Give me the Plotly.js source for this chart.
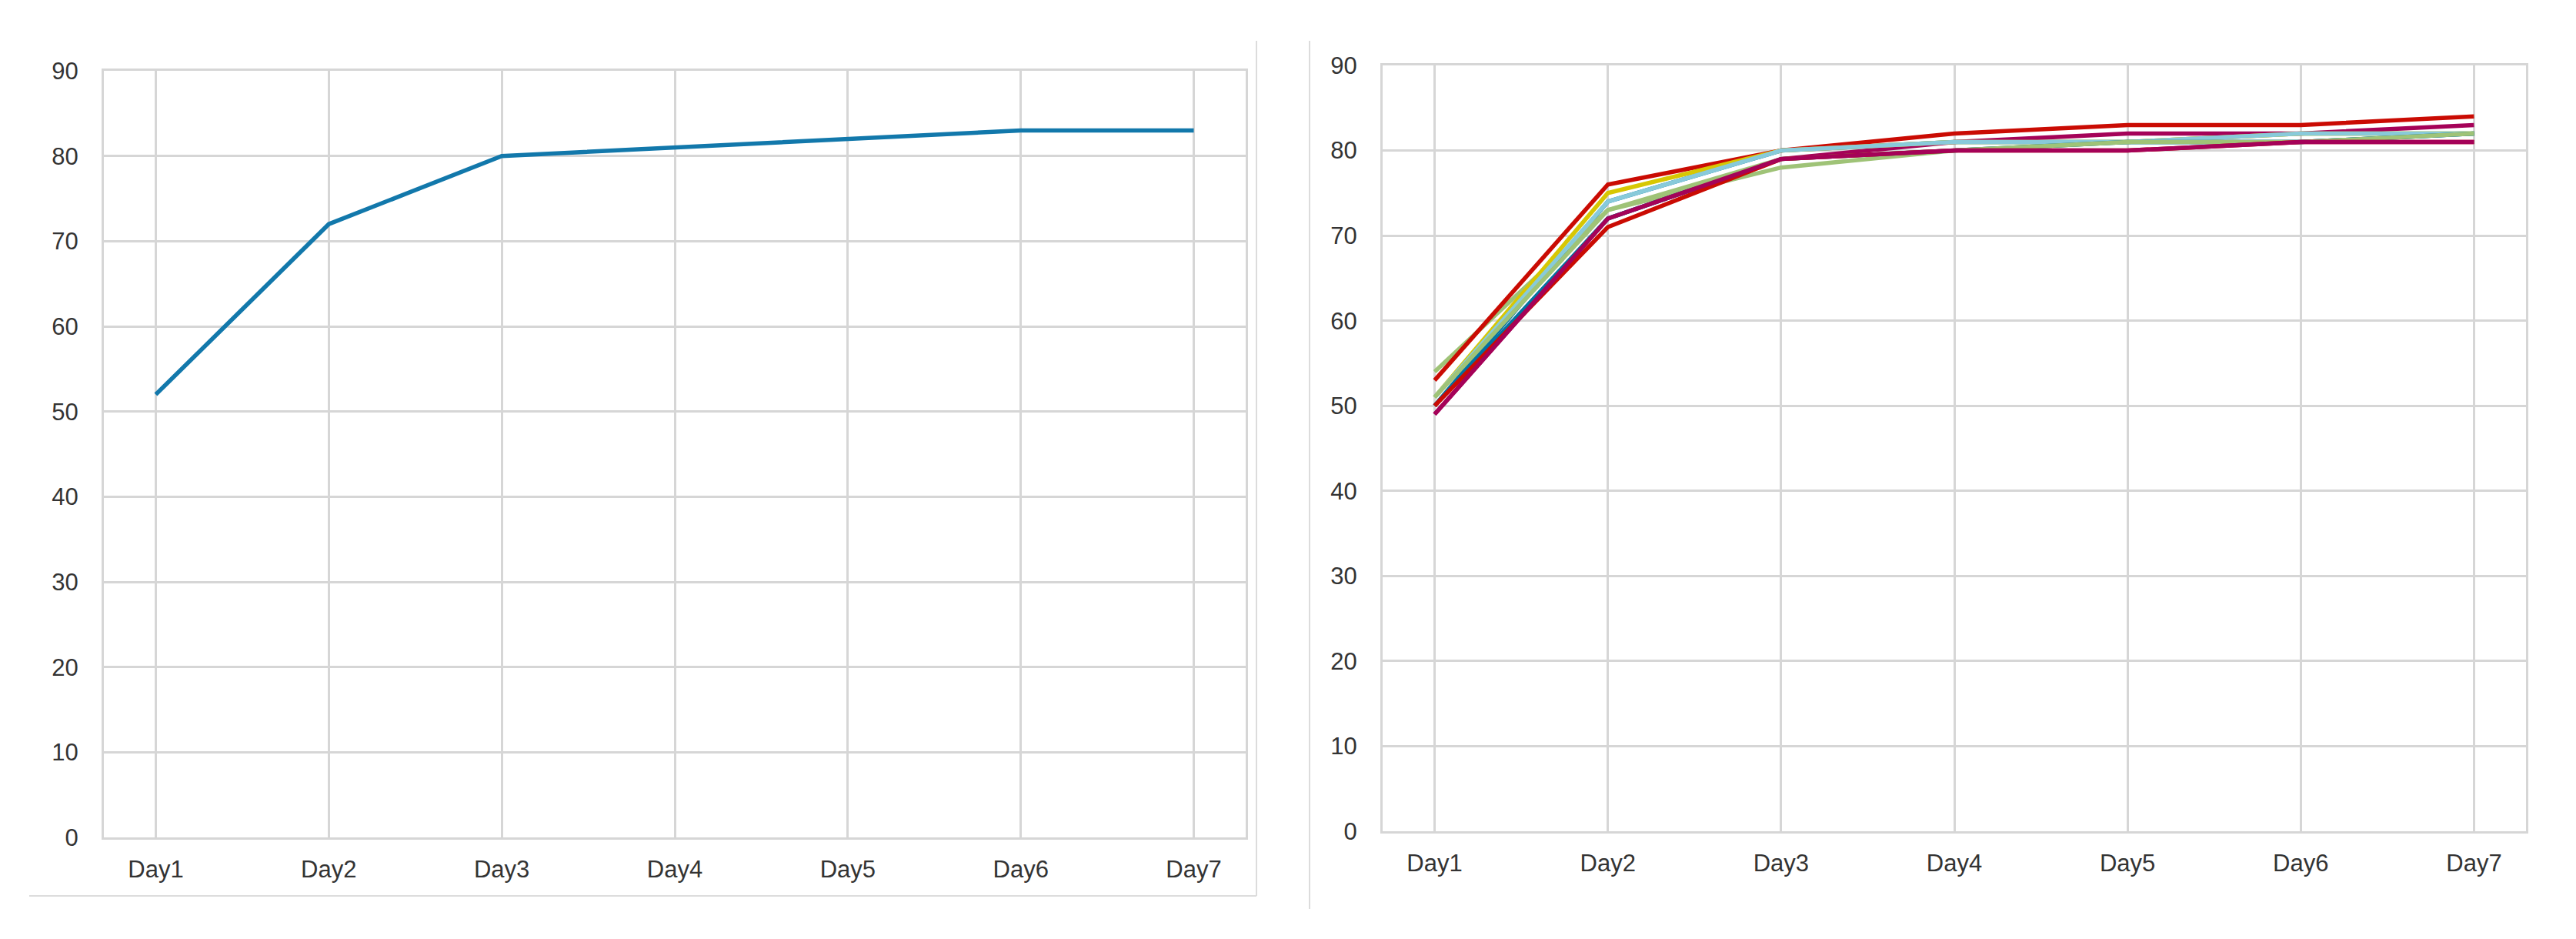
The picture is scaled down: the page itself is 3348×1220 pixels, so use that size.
<!DOCTYPE html>
<html>
<head>
<meta charset="utf-8">
<script src="https://cdn.plot.ly/plotly-3.0.1.min.js"></script>
<style>html,body{margin:0;padding:0;background:#fff;}#chart{width:3348px;height:1220px;}</style>
</head>
<body>
<div id="chart"></div>
<script>
// ---- data ----
const days = ["Day1", "Day2", "Day3", "Day4", "Day5", "Day6", "Day7"];
const yTicks = [0, 10, 20, 30, 40, 50, 60, 70, 80, 90];

const leftSeries = [52, 72, 80, 81, 82, 83, 83];

const runBlue    = [50, 74, 80, 81, 81, 81, 82];
const runGreen   = [54, 73, 78, 80, 81, 82, 82];
const runRed     = [53, 76, 80, 82, 83, 83, 84];
const runPurple  = [49, 72, 79, 81, 82, 82, 83];
const runYellow  = [51, 75, 80, 81, 81, 82, 82];
const runCyan    = [51, 74, 80, 81, 81, 82, 82];
const runBlue2   = [50, 72, 79, 80, 81, 81, 82];
const runGreen2  = [51, 73, 79, 80, 81, 81, 82];
const runRed2    = [50, 71, 79, 80, 80, 81, 81];
const runPurple2 = [49, 72, 79, 80, 80, 81, 81];

const rightSeries = [runBlue, runGreen, runRed, runPurple, runYellow, runCyan,
                     runBlue2, runGreen2, runRed2, runPurple2];
const palette = ["#0272a2", "#9fc377", "#ca0b03", "#a50258", "#d7c703", "#88cada"];

// ---- traces ----
const traces = [{
  x: days, y: leftSeries, type: "scatter", mode: "lines",
  line: {color: "#1278ab", width: 5.5}, xaxis: "x", yaxis: "y", showlegend: false
}];
rightSeries.forEach((s, i) => {
  traces.push({
    x: days, y: s, type: "scatter", mode: "lines",
    line: {color: palette[i % palette.length], width: 5.5},
    xaxis: "x2", yaxis: "y2", showlegend: false
  });
});

const W = 3348, H = 1220;
const px = v => v / W;
const py = v => 1 - v / H;

const gridColor = "#d6d6d6";
const tickFont = {family: "Liberation Sans, Arial, sans-serif", size: 31, color: "#333333"};

function xAxis(domain, anchor) {
  return {
    type: "category", domain: domain, anchor: anchor, range: [-0.3, 6.3],
    showgrid: true, gridcolor: gridColor, gridwidth: 3,
    showline: true, linecolor: gridColor, linewidth: 3, mirror: true,
    ticks: "", ticklabelstandoff: 12, tickfont: tickFont, zeroline: false,
    fixedrange: true
  };
}
function yAxis(domain, anchor) {
  return {
    domain: domain, anchor: anchor, range: [0, 90], tickvals: yTicks,
    showgrid: true, gridcolor: gridColor, gridwidth: 3,
    showline: true, linecolor: gridColor, linewidth: 3, mirror: true,
    ticks: "", ticklabelstandoff: 24, tickfont: tickFont, zeroline: false,
    fixedrange: true
  };
}

const frameColor = "#dcdcdc";
const layout = {
  width: W, height: H,
  margin: {l: 0, r: 0, t: 0, b: 0},
  paper_bgcolor: "#ffffff", plot_bgcolor: "#ffffff",
  showlegend: false,
  xaxis: xAxis([px(135), px(1619)], "y"),
  yaxis: yAxis([py(1088), py(92)], "x"),
  xaxis2: xAxis([px(1797), px(3283)], "y2"),
  yaxis2: yAxis([py(1080), py(85)], "x2"),
  shapes: [
    {type: "line", xref: "paper", yref: "paper", x0: px(1633), x1: px(1633), y0: py(53), y1: py(1164),
     line: {color: frameColor, width: 2}},
    {type: "line", xref: "paper", yref: "paper", x0: px(38), x1: px(1633), y0: py(1164), y1: py(1164),
     line: {color: frameColor, width: 2}},
    {type: "line", xref: "paper", yref: "paper", x0: px(1702), x1: px(1702), y0: py(53), y1: py(1181),
     line: {color: frameColor, width: 2}}
  ]
};

Plotly.newPlot("chart", traces, layout, {displayModeBar: false, staticPlot: true});
</script>
</body>
</html>
